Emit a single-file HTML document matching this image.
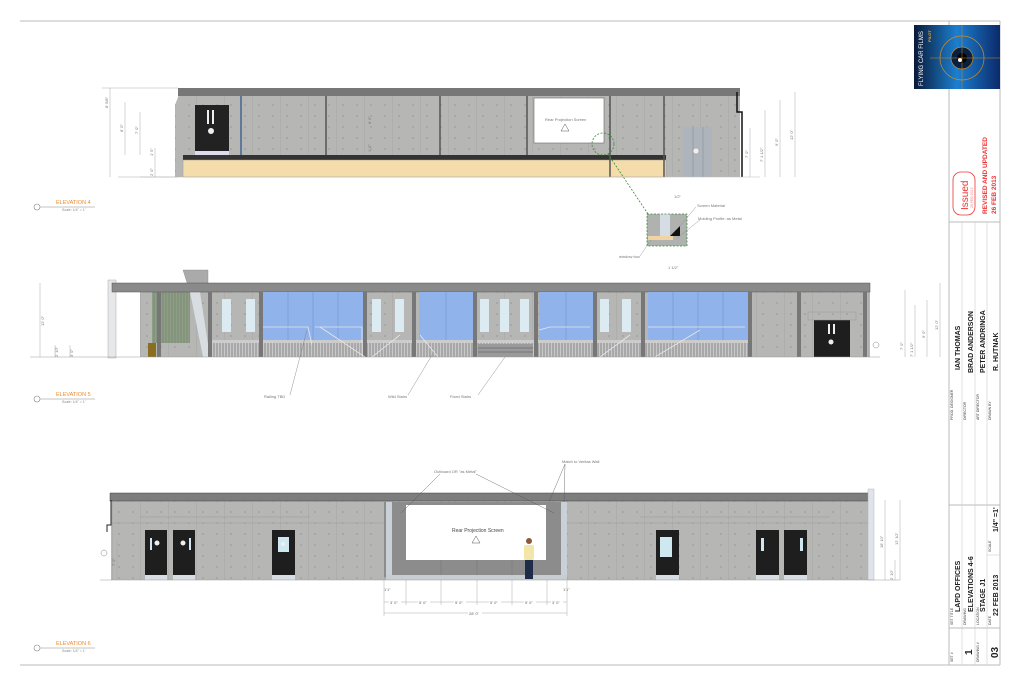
<!DOCTYPE html>
<html><head><meta charset="utf-8"><style>
html,body{margin:0;padding:0;background:#fff;}
svg{display:block;font-family:"Liberation Sans",sans-serif;}
.d{font-size:4px;fill:#777;}
.lb{font-size:4.5px;fill:#444;}
.tb{font-size:3.5px;fill:#444;}
.tv{font-size:7px;font-weight:bold;fill:#222;}
</style></head><body>
<svg width="1023" height="682" viewBox="0 0 1023 682" xmlns="http://www.w3.org/2000/svg">
<defs>
<pattern id="conc" width="28" height="22" patternUnits="userSpaceOnUse">
<rect width="28" height="22" fill="#b6b6b4"/>
<line x1="0" y1="0" x2="0" y2="22" stroke="#9a9a98" stroke-width="0.6"/>
<circle cx="7" cy="6" r="0.5" fill="#666"/><circle cx="21" cy="6" r="0.5" fill="#666"/>
<circle cx="7" cy="17" r="0.5" fill="#666"/><circle cx="21" cy="17" r="0.5" fill="#666"/>
</pattern>
<pattern id="stripe" width="3" height="10" patternUnits="userSpaceOnUse">
<rect width="3" height="10" fill="#c8c8c8"/><line x1="1" y1="0" x2="1" y2="10" stroke="#777" stroke-width="0.8"/>
</pattern>
<pattern id="green" width="3" height="10" patternUnits="userSpaceOnUse">
<rect width="3" height="10" fill="#8e9e86"/><line x1="1" y1="0" x2="1" y2="10" stroke="#6f7f68" stroke-width="0.6"/>
</pattern>
<linearGradient id="logo" x1="0" y1="0" x2="1" y2="0">
<stop offset="0" stop-color="#0a1a3a"/><stop offset="0.5" stop-color="#1c7fd0"/><stop offset="1" stop-color="#0b2a6a"/>
</linearGradient>
</defs>

<line x1="20" y1="21" x2="1000" y2="21" stroke="#bbb" stroke-width="1"/>
<line x1="20" y1="665" x2="1000" y2="665" stroke="#bbb" stroke-width="1"/>
<line x1="1000" y1="21" x2="1000" y2="665" stroke="#bbb" stroke-width="1"/>
<line x1="949" y1="21" x2="949" y2="665" stroke="#bbb" stroke-width="1"/>

<rect x="914" y="25" width="86" height="64" fill="url(#logo)"/>
<circle cx="962" cy="58" r="22" fill="none" stroke="#c58a2a" stroke-width="0.7"/>
<circle cx="962" cy="58" r="11" fill="#0a2040" stroke="#c58a2a" stroke-width="0.7"/>
<circle cx="962" cy="58" r="5" fill="#000"/>
<circle cx="960" cy="60" r="2" fill="#fff"/>
<line x1="930" y1="58" x2="1000" y2="58" stroke="#c58a2a" stroke-width="0.5"/>
<line x1="962" y1="25" x2="962" y2="89" stroke="#c58a2a" stroke-width="0.5"/>
<text transform="translate(923,86) rotate(-90)" font-size="6" fill="#fff">FLYING CAR FILMS</text>
<text transform="translate(931,42) rotate(-90)" font-size="4" fill="#f0a020" font-weight="bold">PILOT</text>

<line x1="949" y1="222" x2="1000" y2="222" stroke="#bbb"/>
<line x1="949" y1="505" x2="1000" y2="505" stroke="#bbb"/>
<line x1="962" y1="222" x2="962" y2="505" stroke="#ccc" stroke-width="0.6"/>
<line x1="975" y1="222" x2="975" y2="505" stroke="#ccc" stroke-width="0.6"/>
<line x1="987" y1="222" x2="987" y2="505" stroke="#ccc" stroke-width="0.6"/>
<rect x="953" y="172" width="22" height="43" rx="8" fill="none" stroke="#e33" stroke-width="0.8"/>
<text transform="translate(968,210) rotate(-90)" font-size="10" fill="#e33">Issued</text>
<text transform="translate(973,208) rotate(-90)" font-size="3.5" fill="#e88">26 FEB 2013</text>
<text transform="translate(987,214) rotate(-90)" font-size="6.5" font-weight="bold" fill="#e33">REVISED AND UPDATED</text>
<text transform="translate(996,214) rotate(-90)" font-size="6.5" font-weight="bold" fill="#e33">26 FEB 2013</text>

<text class="tb" transform="translate(953,420) rotate(-90)">PROD. DESIGNER</text>
<text class="tv" transform="translate(960,370) rotate(-90)">IAN THOMAS</text>
<text class="tb" transform="translate(966,420) rotate(-90)">DIRECTOR</text>
<text class="tv" transform="translate(973,373) rotate(-90)">BRAD ANDERSON</text>
<text class="tb" transform="translate(979,420) rotate(-90)">ART DIRECTOR</text>
<text class="tv" transform="translate(985,373) rotate(-90)">PETER ANDRINGA</text>
<text class="tb" transform="translate(991,420) rotate(-90)">DRAWN BY</text>
<text class="tv" transform="translate(998,371) rotate(-90)">R. HUTNAK</text>

<line x1="949" y1="628" x2="1000" y2="628" stroke="#bbb"/>
<line x1="962" y1="505" x2="962" y2="665" stroke="#ccc" stroke-width="0.6"/>
<line x1="975" y1="505" x2="975" y2="665" stroke="#ccc" stroke-width="0.6"/>
<line x1="987" y1="505" x2="987" y2="665" stroke="#ccc" stroke-width="0.6"/>
<line x1="987" y1="555" x2="1000" y2="555" stroke="#ccc" stroke-width="0.6"/>
<text class="tb" transform="translate(953,625) rotate(-90)">SET TITLE</text>
<text class="tv" transform="translate(960,612) rotate(-90)">LAPD OFFICES</text>
<text class="tb" transform="translate(966,625) rotate(-90)">DRAWING</text>
<text class="tv" transform="translate(973,612) rotate(-90)">ELEVATIONS 4-6</text>
<text class="tb" transform="translate(979,625) rotate(-90)">LOCATION</text>
<text class="tv" transform="translate(985,612) rotate(-90)">STAGE J1</text>
<text class="tb" transform="translate(991,625) rotate(-90)">DATE</text>
<text class="tv" transform="translate(998,616) rotate(-90)">22 FEB 2013</text>
<text class="tb" transform="translate(991,552) rotate(-90)">SCALE</text>
<text class="tv" transform="translate(998,532) rotate(-90)">1/4" =1'</text>
<text class="tb" transform="translate(953,662) rotate(-90)">SET #</text>
<text transform="translate(972,655) rotate(-90)" font-size="10" font-weight="bold" fill="#222">1</text>
<text class="tb" transform="translate(979,662) rotate(-90)">DRAWING #</text>
<text transform="translate(998,658) rotate(-90)" font-size="10" font-weight="bold" fill="#222">03</text>

<g>
<polygon points="175,105 180,92 740,92 740,177 175,177" fill="url(#conc)"/>
<rect x="178" y="88" width="562" height="8" fill="#777"/>
<rect x="183" y="155" width="483" height="5" fill="#333"/>
<rect x="183" y="160" width="483" height="17" fill="#f5dcab"/>
<rect x="183" y="160" width="483" height="17" fill="none" stroke="#999" stroke-width="0.5"/>
<g stroke="#555" stroke-width="1.5">
<line x1="241" y1="96" x2="241" y2="155"/><line x1="326" y1="96" x2="326" y2="155"/>
<line x1="440" y1="96" x2="440" y2="155"/><line x1="527" y1="96" x2="527" y2="155"/>
<line x1="610" y1="96" x2="610" y2="177"/><line x1="664" y1="96" x2="664" y2="177"/>
</g>
<line x1="241" y1="96" x2="241" y2="155" stroke="#3a6ab0" stroke-width="1"/>
<rect x="195" y="105" width="34" height="46" fill="#222"/>
<rect x="195" y="151" width="34" height="4" fill="#dde"/>
<rect x="207" y="110" width="2" height="14" fill="#eee"/><rect x="212" y="110" width="2" height="14" fill="#eee"/>
<circle cx="211" cy="131" r="3" fill="#eee"/>
<rect x="534" y="98" width="70" height="45" fill="#fff" stroke="#666" stroke-width="0.6"/>
<text class="d" x="545" y="121" font-size="5" fill="#444">Rear Projection Screen</text>
<polygon points="565,124 561,131 569,131" fill="none" stroke="#555" stroke-width="0.5"/>
<rect x="683" y="127" width="29" height="50" fill="#aeb4bc"/>
<line x1="693" y1="127" x2="693" y2="177" stroke="#888" stroke-width="0.5"/><line x1="703" y1="127" x2="703" y2="177" stroke="#888" stroke-width="0.5"/>
<circle cx="696" cy="151" r="3" fill="#eee" stroke="#888" stroke-width="0.4"/>
<polyline points="737,92 737,112 742,112 742,177" fill="none" stroke="#111" stroke-width="1.5"/>
<line x1="140" y1="177" x2="760" y2="177" stroke="#bbb" stroke-width="0.5"/>
<g stroke="#aaa" stroke-width="0.5">
<line x1="110" y1="88" x2="110" y2="177"/><line x1="125" y1="102" x2="125" y2="155"/>
<line x1="140" y1="112" x2="140" y2="155"/><line x1="155" y1="148" x2="155" y2="177"/>
<line x1="102" y1="88" x2="178" y2="88"/><line x1="118" y1="177" x2="178" y2="177"/>
<line x1="750" y1="177" x2="750" y2="128"/><line x1="765" y1="177" x2="765" y2="110"/>
<line x1="780" y1="177" x2="780" y2="100"/><line x1="795" y1="177" x2="795" y2="92"/>
</g>
<text class="d" transform="translate(108,108) rotate(-90)">8' 5/8"</text>
<text class="d" transform="translate(123,132) rotate(-90)">8' 0"</text>
<text class="d" transform="translate(138,134) rotate(-90)">7' 0"</text>
<text class="d" transform="translate(153,156) rotate(-90)">1' 5"</text>
<text class="d" transform="translate(153,176) rotate(-90)">2' 0"</text>
<text class="d" transform="translate(748,158) rotate(-90)">7' 0"</text>
<text class="d" transform="translate(763,162) rotate(-90)">7' 1 1/2"</text>
<text class="d" transform="translate(778,146) rotate(-90)">9' 0"</text>
<text class="d" transform="translate(793,140) rotate(-90)">12' 0"</text>
<text class="d" transform="translate(371,124) rotate(-90)">8' 6"</text>
<text class="d" transform="translate(371,152) rotate(-90)">1' 6"</text>
<circle cx="603" cy="144" r="11" fill="none" stroke="#3a8a3a" stroke-width="0.8" stroke-dasharray="2,1.5"/>
<line x1="608" y1="154" x2="648" y2="214" stroke="#3a8a3a" stroke-width="0.8" stroke-dasharray="2,1.5"/>
<rect x="647" y="214" width="40" height="32" fill="#b0b2b0"/>
<rect x="660" y="214" width="10" height="22" fill="#d6dce4"/>
<polygon points="670,236 680,226 680,236" fill="#111"/>
<rect x="648" y="236" width="25" height="4" fill="#f1d3a4"/>
<rect x="647" y="214" width="40" height="32" fill="none" stroke="#3a8a3a" stroke-width="0.8" stroke-dasharray="2,1.5"/>
<text class="d" x="697" y="207">Screen Material</text>
<text class="d" x="698" y="220">Molding Profile: as Metal</text>
<text class="d" x="619" y="258">window box</text>
<text class="d" x="668" y="269">1 1/2"</text>
<text class="d" x="674" y="198">1/2"</text>
<line x1="677" y1="238" x2="700" y2="220" stroke="#888" stroke-width="0.4"/>
<line x1="680" y1="226" x2="696" y2="207" stroke="#888" stroke-width="0.4"/>
<line x1="640" y1="256" x2="651" y2="240" stroke="#888" stroke-width="0.4"/>
</g>
<circle cx="37" cy="207" r="3" fill="none" stroke="#888" stroke-width="0.6"/>
<line x1="40" y1="207" x2="95" y2="207" stroke="#888" stroke-width="0.5"/>
<text x="56" y="204" font-size="5.5" fill="#f08a2a">ELEVATION 4</text>
<text x="62" y="211" font-size="3.5" fill="#888">Scale: 1/4" = 1'</text>

<g>
<rect x="108" y="280" width="8" height="78" fill="#e6e8ea" stroke="#999" stroke-width="0.4"/>
<rect x="140" y="290" width="730" height="67" fill="url(#conc)"/>
<rect x="152" y="288" width="38" height="55" fill="url(#green)"/>
<rect x="148" y="343" width="8" height="14" fill="#8a6e20"/>
<polygon points="183,270 208,270 208,292 190,292" fill="#aaa" stroke="#888" stroke-width="0.4"/>
<polygon points="190,292 200,292 210,357 203,357" fill="#d8dde2"/>
<rect x="112" y="283" width="758" height="9" fill="#8a8a8a" stroke="#555" stroke-width="0.5"/>
<rect x="263" y="292" width="100" height="51" fill="#8fb3ea"/>
<rect x="419" y="292" width="55" height="51" fill="#8fb3ea"/>
<rect x="539" y="292" width="54" height="51" fill="#8fb3ea"/>
<rect x="648" y="292" width="100" height="51" fill="#8fb3ea"/>
<g fill="#dcebf2">
<rect x="222" y="299" width="9" height="33"/><rect x="246" y="299" width="9" height="33"/>
<rect x="372" y="299" width="9" height="33"/><rect x="395" y="299" width="9" height="33"/>
<rect x="480" y="299" width="9" height="33"/><rect x="500" y="299" width="9" height="33"/><rect x="520" y="299" width="9" height="33"/>
<rect x="600" y="299" width="9" height="33"/><rect x="622" y="299" width="9" height="33"/>
</g>
<g stroke="#6a8cc8" stroke-width="0.5">
<line x1="288" y1="292" x2="288" y2="343"/><line x1="313" y1="292" x2="313" y2="343"/><line x1="338" y1="292" x2="338" y2="343"/>
<line x1="446" y1="292" x2="446" y2="343"/><line x1="566" y1="292" x2="566" y2="343"/>
<line x1="673" y1="292" x2="673" y2="343"/><line x1="698" y1="292" x2="698" y2="343"/><line x1="723" y1="292" x2="723" y2="343"/>
</g>
<rect x="210" y="343" width="540" height="14" fill="url(#stripe)"/>
<rect x="210" y="340" width="540" height="3" fill="#ccc"/>
<g fill="#777">
<rect x="157" y="292" width="4" height="65"/><rect x="208" y="292" width="4" height="65"/>
<rect x="259" y="292" width="4" height="65"/><rect x="363" y="292" width="4" height="65"/>
<rect x="412" y="292" width="4" height="65"/><rect x="473" y="292" width="4" height="65"/>
<rect x="534" y="292" width="4" height="65"/><rect x="593" y="292" width="4" height="65"/>
<rect x="641" y="292" width="4" height="65"/><rect x="748" y="292" width="4" height="65"/>
<rect x="797" y="292" width="4" height="65"/><rect x="863" y="292" width="4" height="65"/>
</g>
<g stroke="#e8e8e8" stroke-width="0.8" fill="none">
<polyline points="263,327 308,327 312,345"/><polyline points="315,327 362,327 362,357"/>
<line x1="320" y1="327" x2="365" y2="357"/>
<line x1="372" y1="357" x2="400" y2="335"/><line x1="420" y1="335" x2="438" y2="357"/>
<polyline points="539,330 550,327 590,327"/><line x1="600" y1="357" x2="630" y2="335"/>
<polyline points="648,327 745,327"/><line x1="655" y1="357" x2="700" y2="330"/>
</g>
<rect x="478" y="344" width="55" height="13" fill="#9a9a9a"/>
<g stroke="#555" stroke-width="0.5"><line x1="478" y1="348" x2="533" y2="348"/><line x1="478" y1="352" x2="533" y2="352"/></g>
<rect x="814" y="320" width="36" height="37" fill="#1e1e1e"/>
<rect x="828" y="324" width="2" height="10" fill="#eee"/><rect x="833" y="324" width="2" height="10" fill="#eee"/>
<circle cx="831" cy="342" r="2.5" fill="#eee"/>
<rect x="808" y="312" width="48" height="8" fill="none" stroke="#999" stroke-width="0.5"/>
<circle cx="876" cy="345" r="3" fill="#fff" stroke="#888" stroke-width="0.5"/>
<line x1="30" y1="357" x2="880" y2="357" stroke="#999" stroke-width="0.6"/>
<g stroke="#aaa" stroke-width="0.5">
<line x1="40" y1="283" x2="40" y2="357"/><line x1="55" y1="345" x2="55" y2="357"/><line x1="70" y1="345" x2="70" y2="357"/>
<line x1="905" y1="290" x2="905" y2="357"/><line x1="915" y1="305" x2="915" y2="357"/>
<line x1="927" y1="300" x2="927" y2="357"/><line x1="940" y1="283" x2="940" y2="357"/>
</g>
<text class="d" transform="translate(44,326) rotate(-90)">12' 0"</text>
<text class="d" transform="translate(58,357) rotate(-90)">2' 10"</text>
<text class="d" transform="translate(73,357) rotate(-90)">3' 0"</text>
<text class="d" transform="translate(903,350) rotate(-90)">7' 0"</text>
<text class="d" transform="translate(913,357) rotate(-90)">7' 1 1/2"</text>
<text class="d" transform="translate(925,338) rotate(-90)">9' 0"</text>
<text class="d" transform="translate(938,330) rotate(-90)">12' 0"</text>
<g stroke="#777" stroke-width="0.4">
<line x1="290" y1="395" x2="307" y2="330"/><line x1="408" y1="395" x2="432" y2="355"/><line x1="478" y1="395" x2="505" y2="357"/>
</g>
<text class="d" x="264" y="398" fill="#555">Railing TBD</text>
<text class="d" x="388" y="398" fill="#555">Wild Stairs</text>
<text class="d" x="450" y="398" fill="#555">Fixed Stairs</text>
</g>
<circle cx="37" cy="399" r="3" fill="none" stroke="#888" stroke-width="0.6"/>
<line x1="40" y1="399" x2="95" y2="399" stroke="#888" stroke-width="0.5"/>
<text x="56" y="396" font-size="5.5" fill="#f08a2a">ELEVATION 5</text>
<text x="62" y="403" font-size="3.5" fill="#888">Scale: 1/4" = 1'</text>

<g>
<rect x="111" y="500" width="757" height="80" fill="url(#conc)"/>
<rect x="110" y="493" width="760" height="8" fill="#7d7d7d" stroke="#444" stroke-width="0.5"/>
<line x1="111" y1="523" x2="384" y2="523" stroke="#999" stroke-width="0.6"/>
<line x1="567" y1="523" x2="868" y2="523" stroke="#999" stroke-width="0.6"/>
<line x1="140" y1="517" x2="310" y2="517" stroke="#999" stroke-width="0.5"/>
<line x1="640" y1="517" x2="830" y2="517" stroke="#999" stroke-width="0.5"/>
<rect x="384" y="502" width="183" height="75" fill="#8c8c8c"/>
<rect x="386" y="502" width="6" height="75" fill="#c9d0d8"/>
<rect x="561" y="502" width="6" height="75" fill="#c9d0d8"/>
<rect x="406" y="505" width="140" height="55" fill="#fff"/>
<g stroke="#777" stroke-width="0.5">
<line x1="441" y1="560" x2="441" y2="575"/><line x1="477" y1="560" x2="477" y2="575"/><line x1="512" y1="560" x2="512" y2="575"/>
</g>
<rect x="386" y="575" width="181" height="5" fill="#c8cdd2"/>
<text x="452" y="532" font-size="5" fill="#444">Rear Projection Screen</text>
<polygon points="476,536 472,543 480,543" fill="none" stroke="#555" stroke-width="0.5"/>
<circle cx="529" cy="541" r="3" fill="#8a5a3a"/>
<rect x="524" y="545" width="10" height="15" rx="2" fill="#f2e6a8"/>
<rect x="525" y="560" width="8" height="19" fill="#1e2c4a"/>
<g fill="#1e1e1e">
<rect x="145" y="530" width="22" height="45"/><rect x="173" y="530" width="22" height="45"/>
<rect x="272" y="530" width="23" height="45"/><rect x="656" y="530" width="23" height="45"/>
<rect x="756" y="530" width="23" height="45"/><rect x="784" y="530" width="23" height="45"/>
</g>
<g fill="#d8dde4">
<rect x="145" y="575" width="22" height="5"/><rect x="173" y="575" width="22" height="5"/>
<rect x="272" y="575" width="23" height="5"/><rect x="656" y="575" width="23" height="5"/>
<rect x="756" y="575" width="23" height="5"/><rect x="784" y="575" width="23" height="5"/>
</g>
<g fill="#cfe8f0">
<rect x="150" y="538" width="2" height="12"/><rect x="189" y="538" width="2" height="12"/>
<rect x="278" y="537" width="11" height="15"/><rect x="660" y="537" width="12" height="20"/>
<rect x="761" y="538" width="3" height="13"/><rect x="800" y="538" width="3" height="13"/>
</g>
<circle cx="157" cy="543" r="2.5" fill="#eee"/><circle cx="183" cy="543" r="2.5" fill="#eee"/><circle cx="283" cy="544" r="2.2" fill="#eee"/>
<rect x="868" y="489" width="6" height="91" fill="#dfe4ea" stroke="#aaa" stroke-width="0.4"/>
<polyline points="111,500 111,525 107,525 107,532" fill="none" stroke="#222" stroke-width="1"/>
<circle cx="104" cy="553" r="3" fill="#fff" stroke="#888" stroke-width="0.5"/>
<line x1="100" y1="580" x2="900" y2="580" stroke="#999" stroke-width="0.6"/>
<g stroke="#aaa" stroke-width="0.5">
<line x1="384" y1="580" x2="384" y2="616"/><line x1="567" y1="580" x2="567" y2="616"/>
<line x1="384" y1="602" x2="567" y2="602"/><line x1="384" y1="613" x2="567" y2="613"/>
<line x1="406" y1="580" x2="406" y2="605"/><line x1="441" y1="580" x2="441" y2="605"/><line x1="477" y1="580" x2="477" y2="605"/>
<line x1="512" y1="580" x2="512" y2="605"/><line x1="547" y1="580" x2="547" y2="605"/>
<line x1="885" y1="500" x2="885" y2="580"/><line x1="900" y1="500" x2="900" y2="580"/><line x1="895" y1="560" x2="895" y2="580"/>
<line x1="117" y1="540" x2="117" y2="580"/>
</g>
<g font-size="4" fill="#666">
<rect x="389" y="599" width="12" height="6" fill="#fff"/><text x="390" y="604">3' 0"</text>
<rect x="418" y="599" width="12" height="6" fill="#fff"/><text x="419" y="604">5' 0"</text>
<rect x="454" y="599" width="12" height="6" fill="#fff"/><text x="455" y="604">5' 0"</text>
<rect x="489" y="599" width="12" height="6" fill="#fff"/><text x="490" y="604">5' 0"</text>
<rect x="524" y="599" width="12" height="6" fill="#fff"/><text x="525" y="604">5' 0"</text>
<rect x="551" y="599" width="12" height="6" fill="#fff"/><text x="552" y="604">3' 0"</text>
<rect x="468" y="610" width="14" height="6" fill="#fff"/><text x="469" y="615">28' 0"</text>
<text x="384" y="591">1'1"</text><text x="563" y="591">1'1"</text>
</g>
<text class="d" transform="translate(883,548) rotate(-90)">18' 10"</text>
<text class="d" transform="translate(898,545) rotate(-90)">12' 10"</text>
<text class="d" transform="translate(893,580) rotate(-90)">2' 10"</text>
<text class="d" transform="translate(115,566) rotate(-90)">7' 0"</text>
<g stroke="#555" stroke-width="0.4">
<line x1="440" y1="474" x2="401" y2="513"/><line x1="476" y1="474" x2="554" y2="513"/>
<line x1="565" y1="464" x2="549" y2="502"/><line x1="565" y1="464" x2="564" y2="502"/>
</g>
<text class="d" x="434" y="473" fill="#555">Outboard OR "as Metal"</text>
<text class="d" x="562" y="463" fill="#555">Match to Veritas Wall</text>
</g>
<circle cx="37" cy="648" r="3" fill="none" stroke="#888" stroke-width="0.6"/>
<line x1="40" y1="648" x2="95" y2="648" stroke="#888" stroke-width="0.5"/>
<text x="56" y="645" font-size="5.5" fill="#f08a2a">ELEVATION 6</text>
<text x="62" y="652" font-size="3.5" fill="#888">Scale: 1/4" = 1'</text>
</svg>
</body></html>
